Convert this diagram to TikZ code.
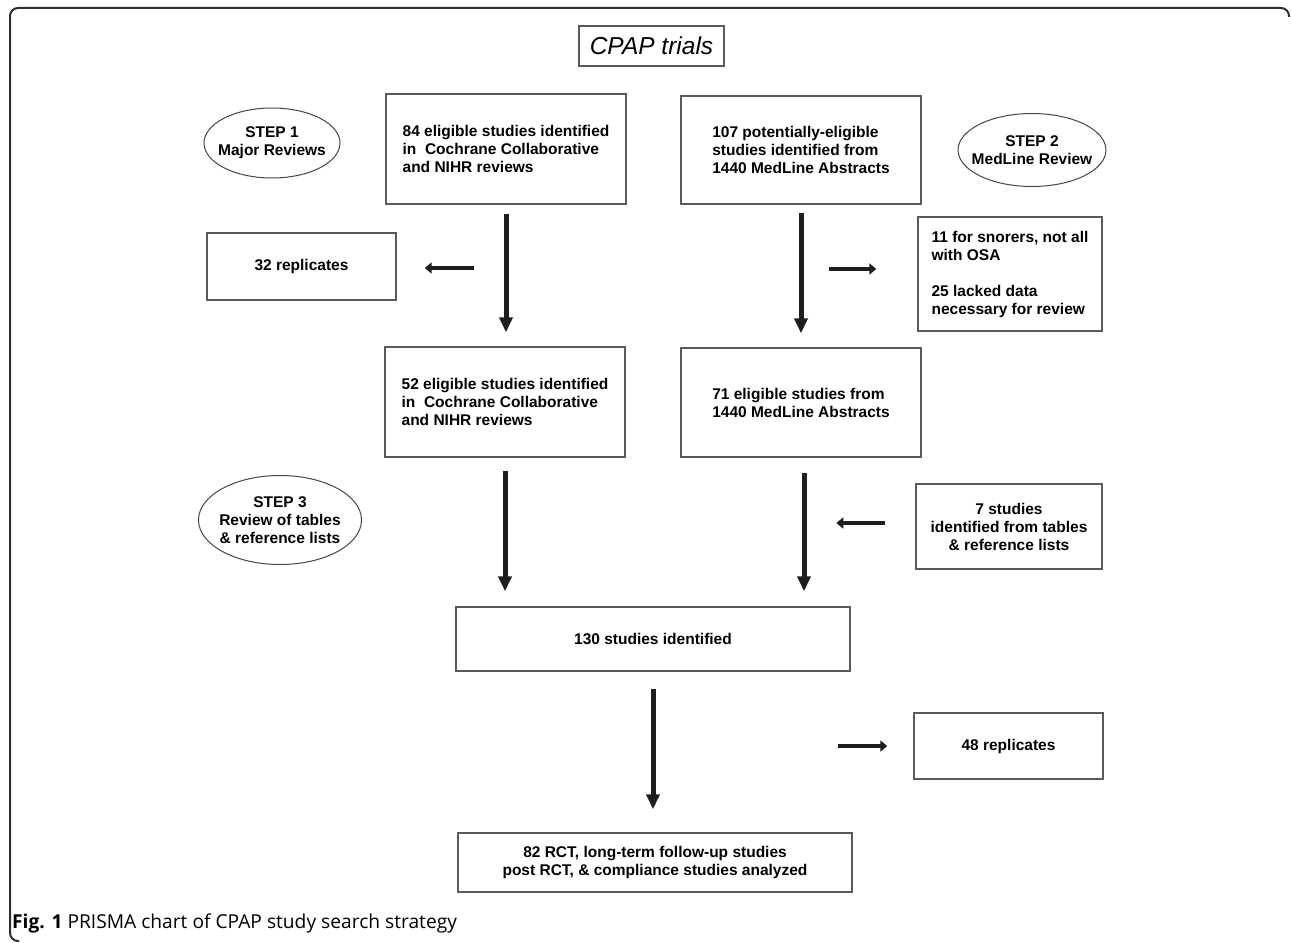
\documentclass[tikz,border=0pt]{standalone}
\usepackage{fontspec}
\setmainfont{Liberation Sans}
\newfontfamily\capfont{Open Sans}
\usepackage{tikz}
\usetikzlibrary{arrows.meta,positioning,shapes.geometric,calc}
\definecolor{ink}{HTML}{1E1E1E}
\definecolor{boxline}{HTML}{5A5A5A}
\definecolor{ovalline}{HTML}{454545}
\definecolor{frameline}{HTML}{2E2E2E}
\tikzset{
  flowbox/.style={draw=boxline,line width=1.4pt,rectangle,inner sep=0pt,
                  align=left,font=\fontsize{15.5}{18}\selectfont\bfseries},
  stepoval/.style={draw=ovalline,line width=1pt,ellipse,inner xsep=-8pt,inner ysep=0pt,
                   align=center,font=\fontsize{15.5}{18}\selectfont\bfseries},
  titlebox/.style={draw=boxline,line width=1.2pt,inner sep=0pt,
                   font=\fontsize{24.5}{28}\selectfont\itshape},
  downarr/.style={-{Triangle[length=15pt,width=13pt]},line width=5pt,color=ink},
  sidearr/.style={-{Triangle[length=7pt,width=11pt]},line width=4.5pt,color=ink},
  framestyle/.style={draw=frameline,line width=2pt,rounded corners=8pt}
}
\begin{document}
\begin{tikzpicture}[x=1pt,y=-1pt]
  \useasboundingbox (0,0) rectangle (1292,942);
  \draw[framestyle] (1289,17) -- (1289,8) -- (10,8) -- (10,941) -- (19,941);

  \node[titlebox,minimum width=145pt,minimum height=40pt] (title) at (651.5,46) {CPAP trials};

  \node[stepoval,minimum width=136pt,minimum height=70pt] (stepone) at (272,143) {STEP 1\\Major Reviews};
  \node[stepoval,minimum width=147pt,minimum height=73pt] (steptwo) at (1032,150) {STEP 2\\MedLine Review};
  \node[stepoval,minimum width=163pt,minimum height=89pt] (stepthree) at (280,520) {STEP 3\\Review of tables\\\& reference lists};

  \node[flowbox,minimum width=240pt,minimum height=110pt] (eligA) at (506,149)
    {84 eligible studies identified\\in\ \ Cochrane Collaborative\\and NIHR reviews};
  \node[flowbox,minimum width=240pt,minimum height=108pt] (eligB) at (801,150)
    {107 potentially-eligible\\studies identified from\\1440 MedLine Abstracts};
  \node[flowbox,align=center,minimum width=189pt,minimum height=67pt] (repA) at (301.5,266.5) {32 replicates};
  \node[flowbox,minimum width=184pt,minimum height=114pt] (excl) at (1010,274)
    {11 for snorers, not all\\with OSA\\[18pt]25 lacked data\\necessary for review};
  \node[flowbox,minimum width=240pt,minimum height=110pt] (eligC) at (505,402)
    {52 eligible studies identified\\in\ \ Cochrane Collaborative\\and NIHR reviews};
  \node[flowbox,minimum width=240pt,minimum height=109pt] (eligD) at (801,402.5)
    {71 eligible studies from\\1440 MedLine Abstracts};
  \node[flowbox,align=center,minimum width=186pt,minimum height=85pt] (extra) at (1009,526.5)
    {7 studies\\identified from tables\\\& reference lists};
  \node[flowbox,align=center,minimum width=394pt,minimum height=64pt] (found) at (653,639) {130 studies identified};
  \node[flowbox,align=center,minimum width=189pt,minimum height=66pt] (repB) at (1008.5,746) {48 replicates};
  \node[flowbox,align=center,minimum width=394pt,minimum height=59pt] (final) at (655,862.5)
    {82 RCT, long-term follow-up studies\\post RCT, \& compliance studies analyzed};

  \draw[downarr] ([yshift=-9pt]eligA.south) -- ([yshift=14pt]eligA.south |- eligC.north);
  \draw[downarr] ([yshift=-8pt]eligB.south) -- ([yshift=14pt]eligB.south |- eligD.north);
  \draw[downarr] ([yshift=-13pt]eligC.south) -- ([yshift=15pt]eligC.south |- found.north);
  \draw[downarr] ([xshift=3pt,yshift=-15pt]eligD.south) -- ([xshift=3pt,yshift=15pt]eligD.south |- found.north);
  \draw[downarr] ([yshift=-17pt]found.south) -- ([yshift=23pt]found.south |- final.north);

  \draw[sidearr] ([xshift=77pt,yshift=-1.5pt]repA.east) -- ([xshift=28pt,yshift=-1.5pt]repA.east);
  \draw[sidearr] ([xshift=-88pt,yshift=5pt]excl.west) -- ([xshift=-41pt,yshift=5pt]excl.west);
  \draw[sidearr] ([xshift=-30pt,yshift=3.5pt]extra.west) -- ([xshift=-79pt,yshift=3.5pt]extra.west);
  \draw[sidearr] ([xshift=-75pt]repB.west) -- ([xshift=-26pt]repB.west);

  \node[anchor=base west,inner sep=0pt,font=\capfont\fontsize{19.2}{22}\selectfont] (caption) at (12,928)
    {\textbf{Fig. 1} PRISMA chart of CPAP study search strategy};
\end{tikzpicture}
\end{document}
